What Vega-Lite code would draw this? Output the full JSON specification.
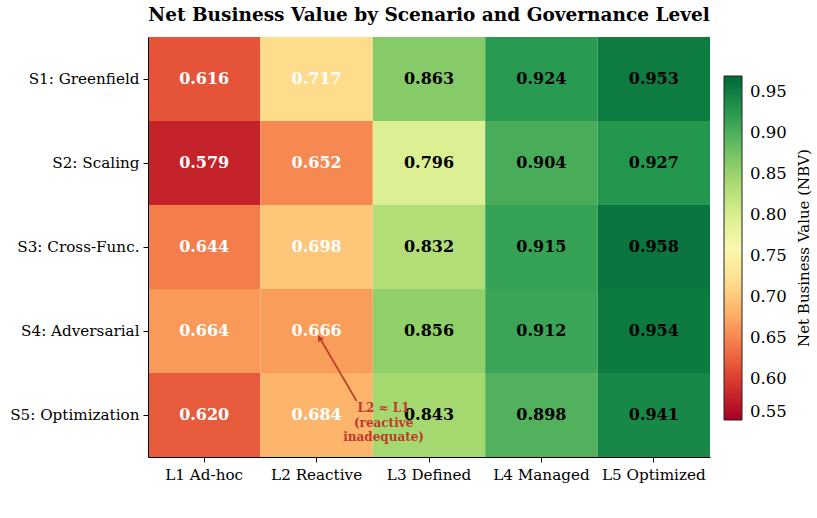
{
  "$schema": "https://vega.github.io/schema/vega-lite/v6.json",
  "autosize": {"type": "none"},
  "padding": {"left": 148, "top": 37, "right": 107, "bottom": 61},
  "width": 562,
  "height": 420,
  "background": "white",
  "title": {
    "text": "Net Business Value by Scenario and Governance Level",
    "font": "DejaVu Serif",
    "fontSize": 18.5,
    "fontWeight": "bold",
    "color": "black",
    "anchor": "middle",
    "offset": 13
  },
  "config": {
    "view": {"stroke": null},
    "axis": {
      "labelFont": "DejaVu Serif",
      "labelFontSize": 15.2,
      "labelColor": "black",
      "tickColor": "black",
      "domainColor": "black",
      "tickSize": 5,
      "domainWidth": 1,
      "tickWidth": 1,
      "grid": false,
      "title": null
    }
  },
  "data": {
    "values": [
      {"scenario": "S1: Greenfield", "level": "L1 Ad-hoc", "value": 0.616},
      {"scenario": "S1: Greenfield", "level": "L2 Reactive", "value": 0.717},
      {"scenario": "S1: Greenfield", "level": "L3 Defined", "value": 0.863},
      {"scenario": "S1: Greenfield", "level": "L4 Managed", "value": 0.924},
      {"scenario": "S1: Greenfield", "level": "L5 Optimized", "value": 0.953},
      {"scenario": "S2: Scaling", "level": "L1 Ad-hoc", "value": 0.579},
      {"scenario": "S2: Scaling", "level": "L2 Reactive", "value": 0.652},
      {"scenario": "S2: Scaling", "level": "L3 Defined", "value": 0.796},
      {"scenario": "S2: Scaling", "level": "L4 Managed", "value": 0.904},
      {"scenario": "S2: Scaling", "level": "L5 Optimized", "value": 0.927},
      {"scenario": "S3: Cross-Func.", "level": "L1 Ad-hoc", "value": 0.644},
      {"scenario": "S3: Cross-Func.", "level": "L2 Reactive", "value": 0.698},
      {"scenario": "S3: Cross-Func.", "level": "L3 Defined", "value": 0.832},
      {"scenario": "S3: Cross-Func.", "level": "L4 Managed", "value": 0.915},
      {"scenario": "S3: Cross-Func.", "level": "L5 Optimized", "value": 0.958},
      {"scenario": "S4: Adversarial", "level": "L1 Ad-hoc", "value": 0.664},
      {"scenario": "S4: Adversarial", "level": "L2 Reactive", "value": 0.666},
      {"scenario": "S4: Adversarial", "level": "L3 Defined", "value": 0.856},
      {"scenario": "S4: Adversarial", "level": "L4 Managed", "value": 0.912},
      {"scenario": "S4: Adversarial", "level": "L5 Optimized", "value": 0.954},
      {"scenario": "S5: Optimization", "level": "L1 Ad-hoc", "value": 0.620},
      {"scenario": "S5: Optimization", "level": "L2 Reactive", "value": 0.684},
      {"scenario": "S5: Optimization", "level": "L3 Defined", "value": 0.843},
      {"scenario": "S5: Optimization", "level": "L4 Managed", "value": 0.898},
      {"scenario": "S5: Optimization", "level": "L5 Optimized", "value": 0.941}
    ]
  },
  "encoding": {
    "x": {
      "field": "level", "type": "nominal",
      "sort": ["L1 Ad-hoc", "L2 Reactive", "L3 Defined", "L4 Managed", "L5 Optimized"],
      "scale": {"paddingInner": 0, "paddingOuter": 0},
      "axis": {"labelAngle": 0, "orient": "bottom", "labelPadding": 5}
    },
    "y": {
      "field": "scenario", "type": "nominal",
      "sort": ["S1: Greenfield", "S2: Scaling", "S3: Cross-Func.", "S4: Adversarial", "S5: Optimization"],
      "scale": {"paddingInner": 0, "paddingOuter": 0},
      "axis": {"labelPadding": 4}
    }
  },
  "layer": [
    {
      "mark": {"type": "rect", "strokeWidth": 0},
      "encoding": {
        "color": {
          "field": "value", "type": "quantitative",
          "scale": {"scheme": "redyellowgreen", "domain": [0.55, 0.97]},
          "legend": {
            "orient": "none",
            "legendX": 576,
            "legendY": 39,
            "direction": "vertical",
            "gradientLength": 344,
            "gradientThickness": 18,
            "gradientStrokeColor": "#222",
            "gradientStrokeWidth": 1,
            "values": [0.55, 0.6, 0.65, 0.7, 0.75, 0.8, 0.85, 0.9, 0.95],
            "format": ".2f",
            "labelFont": "DejaVu Serif",
            "labelFontSize": 16.5,
            "labelColor": "black",
            "labelOffset": 8,
            "labelBaseline": "middle",
            "labelOverlap": false,
            "title": null
          }
        }
      }
    },
    {
      "mark": {"type": "text", "font": "DejaVu Serif", "fontSize": 16, "fontWeight": "bold", "baseline": "middle", "align": "center"},
      "encoding": {
        "text": {"field": "value", "type": "quantitative", "format": ".3f"},
        "color": {
          "condition": {"test": "datum.value < 0.75", "value": "white"},
          "value": "black"
        }
      }
    },
    {
      "data": {"values": [{"t_level": "L5 Optimized", "t_scenario": "S3: Cross-Func.", "label": "Net Business Value (NBV)"}]},
      "mark": {"type": "text", "font": "DejaVu Serif", "fontSize": 15, "color": "black", "align": "center", "baseline": "middle", "angle": 270, "xOffset": 150, "yOffset": 1},
      "encoding": {
        "x": {"field": "t_level", "type": "nominal"},
        "y": {"field": "t_scenario", "type": "nominal"},
        "text": {"field": "label"}
      }
    },
    {
      "data": {"values": [{"from_level": "L2 Reactive", "from_scenario": "S5: Optimization", "to_level": "L2 Reactive", "to_scenario": "S4: Adversarial"}]},
      "mark": {"type": "rule", "color": "#c0392b", "strokeWidth": 1.6, "xOffset": 40, "yOffset": -14, "x2Offset": 2, "y2Offset": 5},
      "encoding": {
        "x": {"field": "from_level", "type": "nominal"},
        "y": {"field": "from_scenario", "type": "nominal"},
        "x2": {"field": "to_level"},
        "y2": {"field": "to_scenario"}
      }
    },
    {
      "data": {"values": [{"to_level": "L2 Reactive", "to_scenario": "S4: Adversarial"}]},
      "mark": {"type": "point", "shape": "triangle-up", "filled": true, "color": "#c0392b", "opacity": 1, "size": 45, "angle": 330, "xOffset": 3, "yOffset": 7},
      "encoding": {
        "x": {"field": "to_level", "type": "nominal"},
        "y": {"field": "to_scenario", "type": "nominal"}
      }
    },
    {
      "data": {"values": [{"note_level": "L2 Reactive", "note_scenario": "S5: Optimization", "note": ["L2 ≈ L1", "(reactive", "inadequate)"]}]},
      "mark": {"type": "text", "font": "DejaVu Serif", "fontSize": 12, "fontWeight": "bold", "color": "#c0392b", "align": "center", "baseline": "middle", "lineHeight": 14.5, "dx": 67, "dy": -7},
      "encoding": {
        "x": {"field": "note_level", "type": "nominal"},
        "y": {"field": "note_scenario", "type": "nominal"},
        "text": {"field": "note"}
      }
    }
  ]
}
